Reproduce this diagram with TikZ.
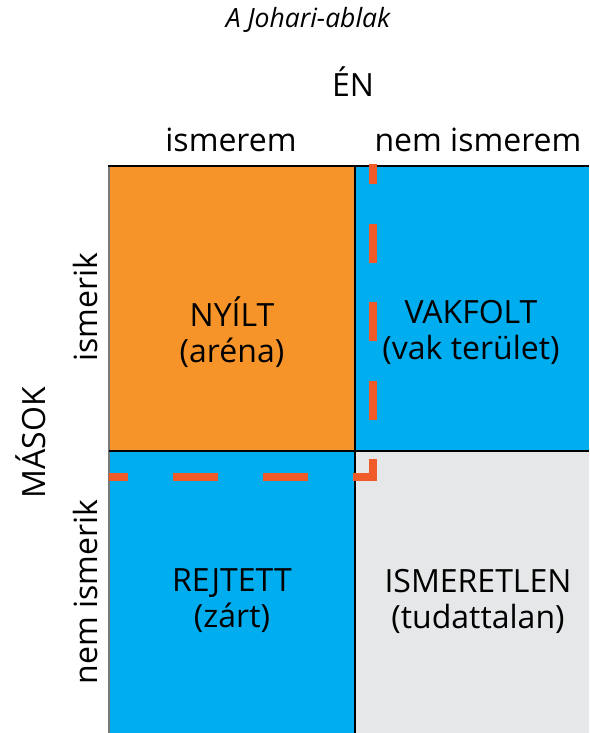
\documentclass[tikz,border=0pt]{standalone}
\usepackage{fontspec}
\setmainfont{Open Sans}
\definecolor{cOrange}{RGB}{247,148,41}
\definecolor{cBlue}{RGB}{0,174,239}
\definecolor{cGray}{RGB}{230,231,232}
\definecolor{cDash}{RGB}{241,90,41}
\definecolor{cEdge}{RGB}{120,120,120}
\tikzset{
  lbl/.style={font=\fontsize{32}{38}\selectfont, inner sep=0pt, anchor=center},
  celltxt/.style={font=\fontsize{32}{36}\selectfont, align=center, inner sep=0pt, anchor=center},
  gridline/.style={black, line width=2pt},
  dashline/.style={cDash, line width=8pt, line join=miter, line cap=butt}
}
\begin{document}
\begin{tikzpicture}[x=1pt, y=-1pt]
\useasboundingbox (0,0) rectangle (589,733);
% cells
\fill[cOrange] (109,166) rectangle (355,451);
\fill[cBlue] (355,166) rectangle (589,451);
\fill[cBlue] (109,451) rectangle (355,733);
\fill[cGray] (355,451) rectangle (589,733);
% grid lines
\draw[cEdge, line width=2pt] (109,166) -- (109,733);
\draw[gridline] (108,166) -- (589,166);
\draw[gridline] (355,166) -- (355,733);
\draw[gridline] (109,451) -- (589,451);
% dashed boundary
\draw[dashline, dash pattern=on 39pt off 39.5pt, dash phase=19pt] (373,164) -- (373,477) -- (353,477);
\draw[dashline, dash pattern=on 45pt off 45pt, dash phase=45pt] (353,477) -- (109,477);
% texts
\node[lbl, font=\fontsize{26.5}{30}\selectfont\itshape] (title) at (308,20) {A Johari-ablak};
\node[lbl] (en) at (353,82) {ÉN};
\node[lbl] (ism) at (231,140) {ismerem};
\node[lbl] (nism) at (478,140) {nem ismerem};
\node[lbl, rotate=90] (masok) at (31,443) {MÁSOK};
\node[lbl, rotate=90] (isk) at (85,307) {ismerik};
\node[lbl, rotate=90] (nisk) at (85,592) {nem ismerik};
\node[celltxt] (open) at (232,332) {NYÍLT\\(aréna)};
\node[celltxt] (blind) at (471,332) {VAKFOLT\\(vak terület)};
\node[celltxt] (hidden) at (232,601) {REJTETT\\(zárt)};
\node[celltxt] (unknown) at (478,601) {ISMERETLEN\\(tudattalan)};
\end{tikzpicture}
\end{document}
